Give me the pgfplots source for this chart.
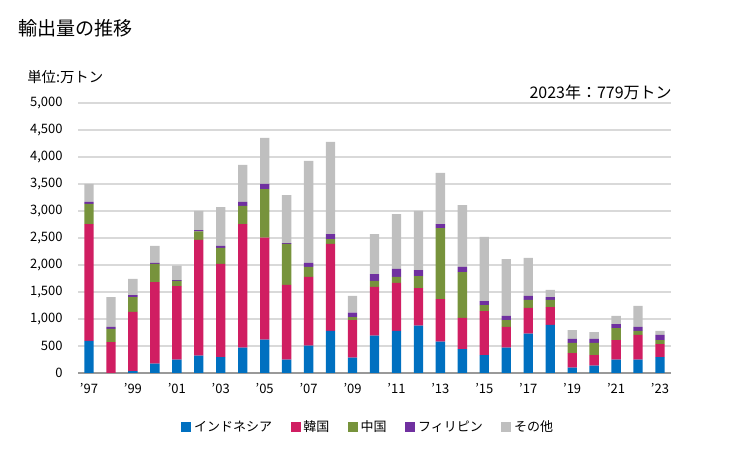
\documentclass[border=0pt]{standalone}
\usepackage{fontspec}
\setmainfont{Noto Sans CJK JP}
\usepackage{pgfplots}
\usepackage{pgfplotstable}
\pgfplotsset{compat=1.18}
\definecolor{cidn}{HTML}{0070C0}
\definecolor{ckor}{HTML}{D01E62}
\definecolor{cchn}{HTML}{77933C}
\definecolor{cphl}{HTML}{7030A0}
\definecolor{coth}{HTML}{BFBFBF}
\definecolor{cgrid}{HTML}{D9D9D9}
\pgfplotstableread{
year idn kor chn phl oth
1997 593 2166 371 37 333
1998 0 574 241 37 555
1999 37 1093 277 37 297
2000 173 1512 334 18 315
2001 247 1364 93 18 266
2002 321 2142 160 25 352
2003 296 1723 296 37 722
2004 469 2290 334 74 685
2005 617 1889 901 93 852
2006 247 1383 759 18 889
2007 506 1272 185 74 1889
2008 778 1611 92 93 1704
2009 284 697 56 80 309
2010 691 902 111 129 741
2011 778 889 111 148 1018
2012 877 697 222 111 1093
2013 580 790 1315 74 945
2014 444 575 851 93 1148
2015 333 815 111 74 1186
2016 469 383 129 75 1055
2017 728 476 148 74 704
2018 889 333 130 55 130
2019 99 271 186 74 166
2020 136 197 223 74 129
2021 247 364 222 74 149
2022 247 457 74 74 389
2023 296 241 74 93 75
}\datatable
\begin{document}
\begin{tikzpicture}
\useasboundingbox (0,0) rectangle (546.75pt,337.5pt);
\node[anchor=west, inner sep=0pt, font=\fontsize{14.3pt}{17pt}\selectfont] at (13.5pt,316.5pt) {輸出量の推移};
\node[anchor=west, inner sep=0pt, font=\fontsize{10.8pt}{13pt}\selectfont] at (20.25pt,279.75pt) {単位:万トン};
\node[anchor=east, inner sep=0pt, font=\fontsize{12pt}{14pt}\selectfont] at (504pt,268.5pt) {2023年：779万トン};
\begin{axis}[
  at={(58.5pt,57.75pt)}, anchor=south west,
  scale only axis, width=444.75pt, height=202.5pt,
  ybar stacked, bar width=7pt,
  xmin=1996.5, xmax=2023.5,
  ymin=0, ymax=5000,
  ytick={0,500,...,5000},
  xtick={1997,1999,...,2023},
  xticklabels={'97,'99,'01,'03,'05,'07,'09,'11,'13,'15,'17,'19,'21,'23},
  axis x line*=bottom, axis y line*=left,
  y axis line style={draw=none},
  x axis line style={draw=gray!80, line width=0.8pt},
  ymajorgrids, grid style={cgrid, line width=0.8pt},
  major tick length=0pt,
  tick label style={font=\fontsize{9.75pt}{11pt}\selectfont},
  /pgf/number format/assume math mode=true,
  /pgf/number format/1000 sep={,},
  yticklabel style={anchor=east, xshift=-8pt},
  xticklabel style={yshift=-4pt},
  legend columns=-1,
  legend style={at={(0.49,-0.2)}, anchor=center, draw=none, fill=none,
    font=\fontsize{9.75pt}{11pt}\selectfont,
    /tikz/every even column/.append style={column sep=12pt},
    /tikz/every odd column/.append style={column sep=0pt}},
  legend image code/.code={\fill[#1] (0pt,-3.5pt) rectangle (7.5pt,4pt);},
  clip=false,
]
\addplot[fill=cidn, draw=none] table[x=year,y=idn] {\datatable};
\addplot[fill=ckor, draw=none] table[x=year,y=kor] {\datatable};
\addplot[fill=cchn, draw=none] table[x=year,y=chn] {\datatable};
\addplot[fill=cphl, draw=none] table[x=year,y=phl] {\datatable};
\addplot[fill=coth, draw=none] table[x=year,y=oth] {\datatable};
\legend{インドネシア,韓国,中国,フィリピン,その他}
\end{axis}
\end{tikzpicture}
\end{document}
